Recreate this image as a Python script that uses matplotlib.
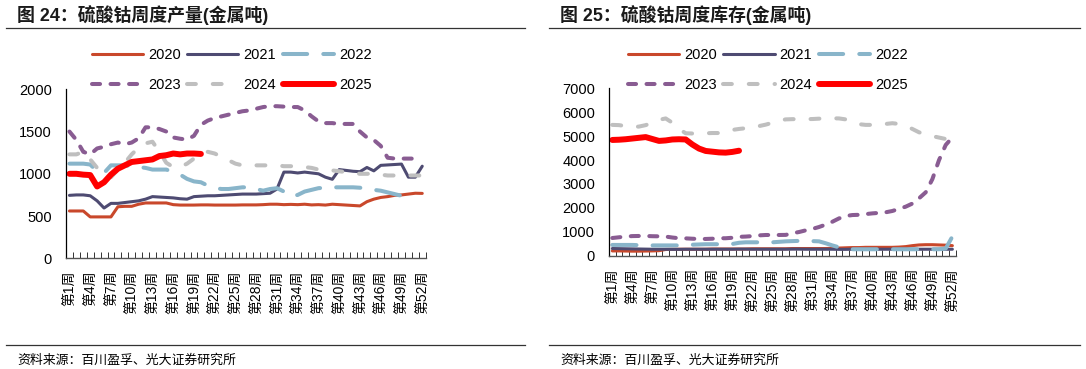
import matplotlib
matplotlib.use('Agg')
import matplotlib.pyplot as plt
from matplotlib.lines import Line2D

plt.rcParams['font.family'] = ['Liberation Sans', 'Noto Sans CJK SC', 'DejaVu Sans']

# ---------------- data ----------------
weeks = list(range(1, 53))
tick_weeks = list(range(1, 53, 3))
tick_labels = [f'第{w}周' for w in tick_weeks]
years = ['2020', '2021', '2022', '2023', '2024', '2025']

# 硫酸钴周度产量 (金属吨)
prod_2020 = [560, 560, 560, 490, 490, 490, 490, 610, 615, 615, 640, 655, 655, 655, 655, 635,
             630, 630, 630, 632, 632, 630, 630, 630, 630, 632, 632, 632, 635, 640, 640, 635,
             638, 635, 640, 632, 635, 630, 640, 635, 630, 625, 620, 670, 700, 720, 730, 745,
             750, 760, 770, 768]
prod_2021 = [745, 750, 750, 740, 680, 595, 650, 650, 660, 670, 680, 700, 730, 725, 720, 715,
             705, 700, 730, 735, 740, 740, 745, 750, 755, 760, 760, 760, 765, 770, 820, 1020,
             1020, 1010, 1020, 1010, 1000, 960, 935, 1050, 1040, 1030, 1025, 1075, 1035, 1100,
             1105, 1110, 1115, 960, 960, 1090]
prod_2022 = [1120, 1120, 1120, 1110, 1030, 1010, 1100, 1100, 1100, 1090, 1080, 1070, 1050, 1050,
             1050, 1020, 990, 940, 910, 900, 860, 830, 820, 820, 830, 840, 840, 820, 800, 820,
             830, 790, 730, 750, 790, 810, 830, 835, 840, 840, 840, 840, 835, 820, 810, 800,
             780, 760, 740, 725]
prod_2023 = [1500, 1400, 1260, 1230, 1300, 1320, 1350, 1370, 1350, 1370, 1420, 1550, 1550, 1530,
             1500, 1430, 1415, 1405, 1450, 1580, 1630, 1660, 1680, 1700, 1720, 1740, 1750, 1770,
             1790, 1800, 1800, 1795, 1790, 1790, 1750, 1680, 1620, 1600, 1600, 1590, 1590, 1590,
             1500, 1430, 1400, 1330, 1190, 1180, 1180, 1180, 1180]
prod_2024 = [1230, 1230, 1260, 1170, 1070, 990, 960, 1050, 1130, 1230, 1310, 1360, 1380, 1260,
             1130, 1080, 1080, 1120, 1180, 1240, 1260, 1240, 1200, 1160, 1120, 1100, 1100, 1100,
             1100, 1100, 1100, 1090, 1090, 1090, 1080, 1070, 1050, 1050, 1040, 1030, 1020, 1010,
             1000, 1000, 1000, 990, 980, 980, 980, 980, 980, 980]
prod_2025 = [1000, 1000, 990, 985, 850, 900, 990, 1060, 1100, 1140, 1150, 1160, 1170, 1210,
             1220, 1240, 1230, 1240, 1240, 1235]

# 硫酸钴周度库存 (金属吨)
inv_2020 = [200, 200, 195, 190, 190, 195, 200, 210, 260, 270, 270, 270, 270, 270, 270, 280,
            280, 280, 280, 280, 280, 290, 290, 290, 290, 290, 290, 300, 300, 300, 300, 300,
            300, 310, 320, 330, 340, 340, 350, 350, 350, 350, 350, 360, 380, 420, 450, 460,
            460, 450, 440, 420]
inv_2021 = [300, 295, 290, 285, 280, 275, 270, 270, 270, 265, 265, 270, 270, 270, 270, 270,
            270, 270, 270, 275, 275, 270, 270, 270, 270, 270, 270, 275, 275, 270, 270, 270,
            270, 270, 265, 265, 270, 270, 270, 270, 270, 270, 270, 270, 270, 270, 270, 270,
            270, 270, 270, 270]
inv_2022 = [450, 450, 450, 450, 440, 430, 430, 430, 430, 430, 430, 440, 460, 470, 480, 480,
            480, 480, 490, 540, 560, 560, 560, 560, 560, 580, 600, 610, 620, 630, 610, 600,
            520, 430, 350, 290, 270, 270, 270, 270, 270, 270, 270, 270, 270, 270, 270, 270,
            270, 270, 300, 800]
inv_2023 = [740, 770, 800, 820, 825, 825, 815, 810, 800, 760, 730, 725, 710, 700, 700, 710,
            730, 730, 750, 790, 800, 820, 850, 866, 866, 866, 870, 940, 990, 1060, 1120, 1200,
            1300, 1420, 1560, 1660, 1700, 1710, 1740, 1770, 1790, 1815, 1870, 1960, 2050, 2180,
            2400, 2650, 3200, 4000, 4630, 4950]
inv_2024 = [5470, 5460, 5420, 5380, 5400, 5460, 5560, 5680, 5740, 5560, 5300, 5120, 5110, 5110,
            5120, 5130, 5130, 5180, 5260, 5300, 5330, 5360, 5420, 5480, 5560, 5650, 5700, 5710,
            5710, 5710, 5715, 5730, 5740, 5745, 5740, 5700, 5580, 5500, 5470, 5470, 5480, 5510,
            5540, 5510, 5430, 5300, 5160, 5070, 5000, 4940, 4880, 4810]
inv_2025 = [4840, 4850, 4870, 4900, 4930, 4960, 4880, 4800, 4820, 4860, 4870, 4860, 4650, 4480,
            4380, 4350, 4320, 4310, 4340, 4390]

prod_series = [prod_2020, prod_2021, prod_2022, prod_2023, prod_2024, prod_2025]
inv_series = [inv_2020, inv_2021, inv_2022, inv_2023, inv_2024, inv_2025]

# ---------------- styles ----------------
styles = {
    '2020': dict(color='#C9482B', lw=2.2, dashes=None),
    '2021': dict(color='#4E4B72', lw=2.2, dashes=None),
    '2022': dict(color='#89B5CA', lw=2.9, dashes=(6.0, 4.0)),
    '2023': dict(color='#895C92', lw=2.9, dashes=(2.0, 2.6)),
    '2024': dict(color='#BFBFBF', lw=2.9, dashes=(2.2, 4.2)),
    '2025': dict(color='#FF0000', lw=4.3, dashes=None),
}

W, H = 1086, 369
fig = plt.figure(figsize=(W / 100, H / 100), dpi=100)


def fx(px):
    return px / W


def fy(py):
    return 1 - py / H


def make_line_kwargs(year):
    st = styles[year]
    kw = dict(color=st['color'], lw=st['lw'], solid_capstyle='round',
              dash_capstyle='round', solid_joinstyle='round', dash_joinstyle='round')
    if st['dashes'] is not None:
        kw['dashes'] = st['dashes']
    return kw


def draw_panel(rect, series, ymax, ystep, title, title_x, rule_x0, rule_x1, legend_x):
    ax = fig.add_axes(rect)
    for yr, vals in zip(years, series):
        ax.plot(weeks[:len(vals)], vals, label=yr, **make_line_kwargs(yr))
    ax.set_xlim(0.5, 52.5)
    ax.set_ylim(0, ymax)
    ax.set_yticks(list(range(0, ymax + 1, ystep)))
    ax.tick_params(axis='y', length=0, pad=10, labelsize=10.5, labelcolor='#000000')
    for s in ['top', 'right']:
        ax.spines[s].set_visible(False)
    ax.spines['left'].set_color('#000000')
    ax.spines['left'].set_linewidth(0.9)
    ax.spines['bottom'].set_color('#555555')
    ax.spines['bottom'].set_linewidth(1.0)
    bounds = [b + 0.5 for b in range(0, 53)]
    ax.set_xticks(bounds)
    ax.set_xticklabels([''] * len(bounds))
    ax.tick_params(axis='x', which='major', direction='in', length=4, width=0.7, color='#333333')
    ax.set_xticks(tick_weeks, minor=True)
    ax.set_xticklabels(tick_labels, minor=True, rotation=90, fontsize=10, color='#000000')
    ax.tick_params(axis='x', which='minor', length=0, pad=9)

    # legend
    order = [0, 3, 1, 4, 2, 5]
    handles = [Line2D([], [], **make_line_kwargs(years[i])) for i in order]
    labels = [years[i] for i in order]
    fig.legend(handles, labels, ncol=3, loc='upper left',
               bbox_to_anchor=(fx(legend_x), fy(48)), frameon=False,
               fontsize=10.5, handlelength=3.5, handletextpad=0.35,
               columnspacing=0.45, labelspacing=1.12, borderpad=0, borderaxespad=0)

    fig.text(fx(title_x), fy(15.5), title, fontsize=12.9, fontweight='bold',
             va='center', ha='left', color='#1a1a1a')
    fig.add_artist(Line2D([fx(rule_x0), fx(rule_x1)], [fy(27.5)] * 2,
                          color='#333333', lw=0.9))
    fig.add_artist(Line2D([fx(rule_x0), fx(rule_x1)], [fy(345)] * 2,
                          color='#333333', lw=0.9))
    fig.text(fx(title_x), fy(361), '资料来源：百川盈孚、光大证券研究所', fontsize=9.3,
             va='center', ha='left', color='#000000')
    return ax


draw_panel([fx(66), fy(258.3), fx(425.7) - fx(66), (258.3 - 89.3) / H],
           prod_series, 2000, 500, '图 24：硫酸钴周度产量(金属吨)', 17, 6, 525, 92)
draw_panel([fx(609), fy(255.7), fx(955.7) - fx(609), (255.7 - 88.3) / H],
           inv_series, 7000, 1000, '图 25：硫酸钴周度库存(金属吨)', 560, 549, 1080, 628)

fig.savefig('out.png', dpi=100)
